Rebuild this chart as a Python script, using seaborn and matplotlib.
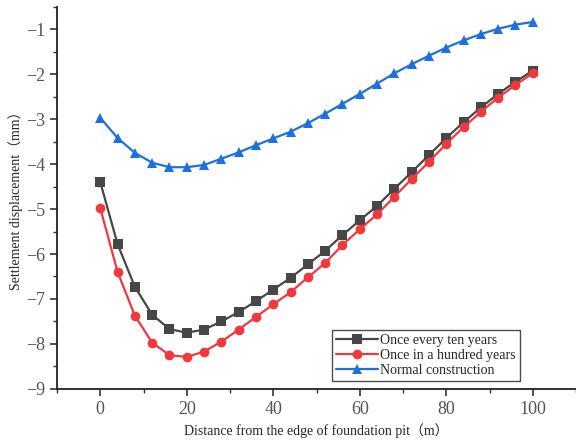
import numpy as np
import pandas as pd
import matplotlib.pyplot as plt
import seaborn as sns
from matplotlib.ticker import MultipleLocator

# -------------------------
# Data
# -------------------------
distance = [0, 4, 8, 12, 16, 20, 24, 28, 32, 36, 40, 44, 48, 52, 56, 60,
            64, 68, 72, 76, 80, 84, 88, 92, 96, 100]

ten_years = [-4.40, -5.78, -6.73, -7.35, -7.67, -7.75, -7.68, -7.50, -7.29,
             -7.05, -6.79, -6.53, -6.23, -5.93, -5.58, -5.25, -4.93, -4.55,
             -4.18, -3.80, -3.42, -3.07, -2.74, -2.44, -2.17, -1.92]

hundred_years = [-4.98, -6.40, -7.37, -7.97, -8.25, -8.29, -8.17, -7.95, -7.68,
                 -7.40, -7.12, -6.85, -6.52, -6.20, -5.80, -5.45, -5.12, -4.73,
                 -4.33, -3.95, -3.55, -3.18, -2.84, -2.52, -2.24, -1.98]

normal = [-2.97, -3.42, -3.75, -3.97, -4.07, -4.07, -4.02, -3.88, -3.74,
          -3.58, -3.43, -3.28, -3.09, -2.88, -2.66, -2.44, -2.21, -1.98,
          -1.78, -1.59, -1.41, -1.25, -1.11, -0.99, -0.90, -0.84]

series_names = ["Once every ten years", "Once in a hundred years", "Normal construction"]
colors = ["#474747", "#f0393c", "#1f70de"]
markers = ["s", "o", "^"]

df = pd.DataFrame({
    "distance": distance * 3,
    "settlement": ten_years + hundred_years + normal,
    "case": [n for n in series_names for _ in distance],
})

# -------------------------
# Style
# -------------------------
sns.set_style("ticks")
plt.rcParams["font.family"] = ["Liberation Serif", "Noto Sans CJK SC"]
plt.rcParams["axes.unicode_minus"] = True

fig = plt.figure(figsize=(5.76, 4.46), dpi=100)
ax = fig.add_axes([0.099, 0.128, 0.901, 0.857])

sns.lineplot(
    data=df, x="distance", y="settlement", hue="case", style="case",
    hue_order=series_names, style_order=series_names,
    palette=colors, markers=markers, dashes=False,
    markersize=7, linewidth=1.6, markeredgewidth=0,
    ax=ax, legend=True,
)

ax.set_xlim(-10, 110)
ax.set_ylim(-9, -0.5)
ax.xaxis.set_major_locator(MultipleLocator(20))
ax.xaxis.set_minor_locator(MultipleLocator(10))
ax.yaxis.set_major_locator(MultipleLocator(1))
ax.yaxis.set_minor_locator(MultipleLocator(0.5))
ax.tick_params(which="major", direction="out", length=5, width=1.2,
               labelsize=13, colors="#333333", labelcolor="#555555")
ax.tick_params(which="minor", direction="out", length=3, width=1.0, colors="#333333")

for side in ["top", "right"]:
    ax.spines[side].set_visible(False)
for side in ["left", "bottom"]:
    ax.spines[side].set_linewidth(1.3)
    ax.spines[side].set_color("#222222")

ax.set_xlabel("Distance from the edge of foundation pit（m）", fontsize=10, labelpad=4)
ax.set_ylabel("Settlement displacement（mm）", fontsize=10, labelpad=2)

leg = ax.legend(loc="lower right", bbox_to_anchor=(0.892, 0.02), fontsize=10,
                frameon=True, fancybox=False, edgecolor="#222222",
                handlelength=3.0, handletextpad=0.2, borderpad=0.3,
                labelspacing=0.15, borderaxespad=0)
leg.get_frame().set_linewidth(1.0)

fig.savefig("out.png", dpi=100)
